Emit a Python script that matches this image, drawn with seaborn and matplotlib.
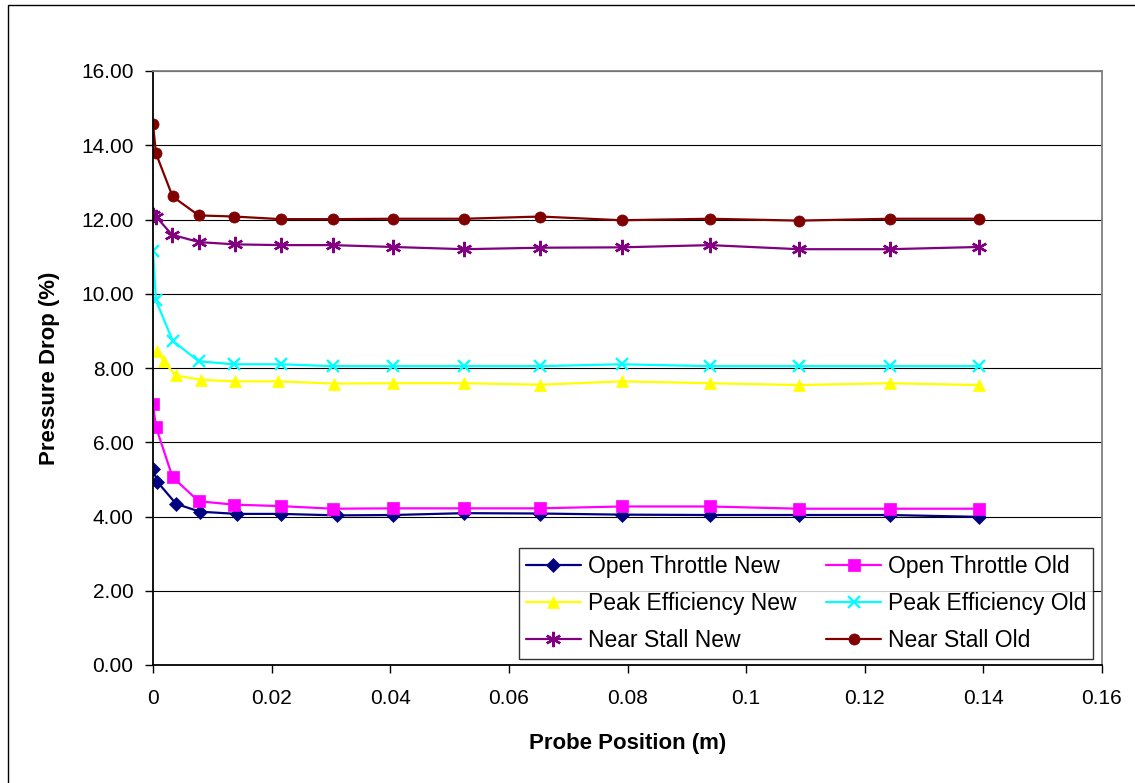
import matplotlib
matplotlib.use("Agg")
import numpy as np
import matplotlib.pyplot as plt
import matplotlib.ticker as mticker
from matplotlib.patches import Rectangle
import seaborn as sns

# probe positions (m) - shared tail beyond ~0.03 m
x_tail = [0.0405, 0.0525, 0.0653, 0.0790, 0.0939, 0.1089, 0.1242, 0.1393]
x_old = [0.0, 0.0005, 0.0033, 0.0077, 0.0137, 0.0215, 0.0303] + x_tail
x_open_new = [0.0, 0.0007, 0.0039, 0.0079, 0.0141, 0.0216, 0.0310] + x_tail
x_peak_new = [0.0007, 0.0018, 0.0038, 0.0081, 0.0138, 0.0211, 0.0305] + x_tail
x_stall_new = [0.0, 0.0005, 0.0032, 0.0078, 0.0139, 0.0216, 0.0303] + x_tail

# pressure drop (%)
open_new = [5.29, 4.94, 4.34, 4.13, 4.07, 4.07, 4.03, 4.04, 4.09, 4.08, 4.05, 4.04, 4.04, 4.04, 3.99]
open_old = [7.02, 6.41, 5.06, 4.41, 4.32, 4.28, 4.21, 4.22, 4.22, 4.22, 4.27, 4.27, 4.21, 4.21, 4.21]
peak_new = [8.46, 8.18, 7.80, 7.68, 7.64, 7.64, 7.58, 7.59, 7.59, 7.55, 7.64, 7.59, 7.54, 7.59, 7.54]
peak_old = [11.15, 9.82, 8.74, 8.18, 8.10, 8.10, 8.05, 8.05, 8.05, 8.05, 8.10, 8.05, 8.05, 8.05, 8.05]
stall_new = [12.12, 12.08, 11.59, 11.39, 11.33, 11.31, 11.31, 11.26, 11.20, 11.24, 11.25, 11.31, 11.20, 11.20, 11.26]
stall_old = [14.57, 13.78, 12.62, 12.11, 12.08, 12.01, 12.01, 12.02, 12.02, 12.08, 11.98, 12.02, 11.97, 12.02, 12.02]

x_ticks = [0, 0.02, 0.04, 0.06, 0.08, 0.1, 0.12, 0.14, 0.16]
y_ticks = [0, 2, 4, 6, 8, 10, 12, 14, 16]

sns.set_style("white")
plt.rcParams["font.family"] = ["Liberation Sans", "DejaVu Sans"]
plt.rcParams["text.color"] = "black"
plt.rcParams["axes.labelcolor"] = "black"

W, H = 1135, 783
fig = plt.figure(figsize=(W / 100, H / 100), dpi=100)
ax = fig.add_axes([153 / W, 1 - 665 / H, (1102 - 153) / W, (665 - 71) / H])

# (label, x, y, color, marker, size)
series = [
    ("Open Throttle New", x_open_new, open_new, "#000080", "D", 7),
    ("Peak Efficiency New", x_peak_new, peak_new, "#FFFF00", "^", 9),
    ("Near Stall New", x_stall_new, stall_new, "#800080", (6, 2, 0), 11),
    ("Open Throttle Old", x_old, open_old, "#FF00FF", "s", 8),
    ("Peak Efficiency Old", x_old, peak_old, "#00FFFF", "x", 9),
    ("Near Stall Old", x_old, stall_old, "#800000", "o", 8),
]

for name, xs, ys, col, mk, ms in series:
    sns.lineplot(x=xs, y=ys, ax=ax, color=col, marker=mk, markersize=ms,
                 markeredgecolor=col, markerfacecolor=col,
                 markeredgewidth=1.7 if mk in ("x", (6, 2, 0)) else 0.5,
                 linewidth=1.6, label=name, estimator=None, sort=False)

ax.set_xlim(0, 0.16)
ax.set_ylim(0, 16)
ax.set_xticks(x_ticks)
ax.set_yticks(y_ticks)
ax.xaxis.set_major_formatter(mticker.FuncFormatter(lambda v, p: f"{round(v, 2):g}"))
ax.yaxis.set_major_formatter(mticker.FormatStrFormatter("%.2f"))
ax.yaxis.grid(True, color="black", linewidth=0.8)
ax.set_axisbelow(True)

ax.tick_params(axis="both", direction="out", labelsize=15, colors="black",
               bottom=True, left=True, length=6, width=1)
ax.tick_params(axis="x", pad=11)
ax.tick_params(axis="y", pad=8)

for side in ["left", "bottom"]:
    ax.spines[side].set_color("black")
    ax.spines[side].set_linewidth(1.3)
for side in ["top", "right"]:
    ax.spines[side].set_color("#808080")
    ax.spines[side].set_linewidth(1.3)

ax.set_xlabel("Probe Position (m)", fontsize=16, fontweight="bold")
ax.set_ylabel("Pressure Drop (%)", fontsize=16, fontweight="bold")
ax.xaxis.set_label_coords(0.5, -0.115)
ax.yaxis.set_label_coords(-0.098, 0.5)

leg = ax.legend(ncol=2, loc="upper left", bbox_to_anchor=(0.3857, 0.197),
                fontsize=16.5, frameon=True, fancybox=False, edgecolor="black",
                handlelength=2.4, handletextpad=0.3, columnspacing=1.3,
                labelspacing=0.62, borderpad=0.3, borderaxespad=0)
leg.get_frame().set_linewidth(1.0)
for t in leg.get_texts():
    t.set_color("black")

# outer chart border
fig.patches.append(Rectangle((8 / W, -0.05), 1.1, 1.05 - 5 / H, transform=fig.transFigure,
                             fill=False, edgecolor="black", linewidth=1.0))

fig.savefig("out.png", dpi=100)
